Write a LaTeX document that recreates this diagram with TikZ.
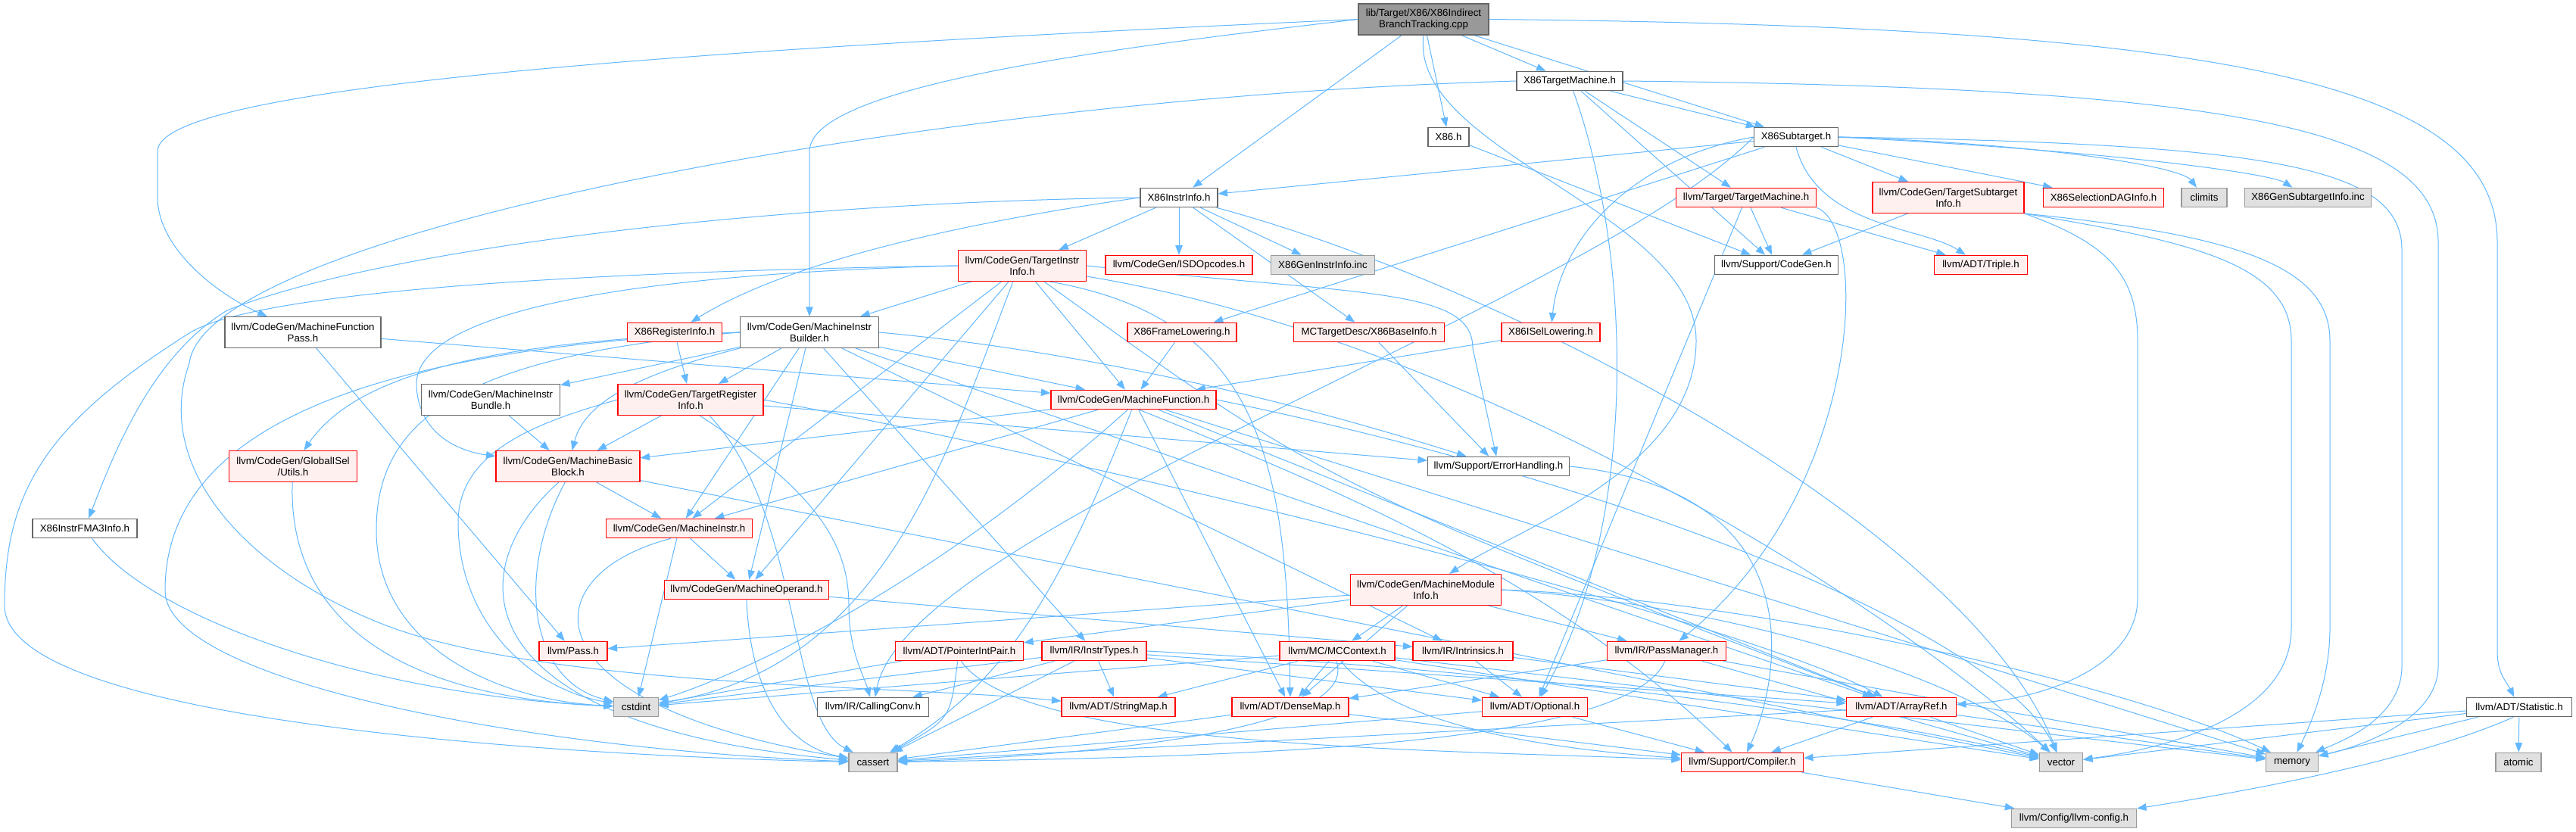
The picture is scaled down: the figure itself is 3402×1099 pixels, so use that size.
\documentclass[tikz,border=0pt]{standalone}
\usepackage{fontspec}
\setmainfont{Liberation Sans}
\usetikzlibrary{arrows.meta,backgrounds}
\definecolor{edgec}{HTML}{63B8FF}
\definecolor{redfill}{HTML}{FFF0F0}
\definecolor{grayfill}{HTML}{E0E0E0}
\definecolor{graybd}{HTML}{999999}
\definecolor{darkbd}{HTML}{666666}
\definecolor{rootfill}{HTML}{999999}
\begin{document}
\begin{tikzpicture}[x=1pt,y=-1pt,
  box/.style={rectangle, inner xsep=3pt, inner ysep=2pt, minimum height=25.5pt, line width=1.1pt,
     align=center, font=\fontsize{13.3}{15.5}\selectfont},
  wn/.style={box, draw=darkbd, fill=white},
  wn2/.style={wn, minimum height=41pt},
  rn/.style={box, draw=red, fill=redfill},
  rn2/.style={rn, minimum height=41pt},
  gn/.style={box, draw=graybd, fill=grayfill},
  rootn/.style={box, draw=darkbd, fill=rootfill, minimum height=41pt},
  dep/.style={draw=edgec, line width=1pt, -{Triangle[length=12.5pt,width=9.5pt]}}]
\useasboundingbox (0,0) rectangle (3402,1099);

% nodes
\node[rootn, minimum width=172pt] (root) at (1880,25.5) {lib/Target/X86/X86Indirect\\BranchTracking.cpp};
\node[wn, minimum width=140pt] (tm) at (2073,107) {X86TargetMachine.h};
\node[wn, minimum width=54pt] (x86h) at (1913,181) {X86.h};
\node[wn, minimum width=111pt] (sub) at (2372,181) {X86Subtarget.h};
\node[wn, minimum width=102pt] (ii) at (1557,261) {X86InstrInfo.h};
\node[rn, minimum width=185pt] (ttm) at (2306,261) {llvm/Target/TargetMachine.h};
\node[rn2, minimum width=200pt] (tsi) at (2573,261) {llvm/CodeGen/TargetSubtarget\\Info.h};
\node[rn, minimum width=159pt] (sdag) at (2778,261) {X86SelectionDAGInfo.h};
\node[gn, minimum width=60pt] (climits) at (2911,261) {climits};
\node[gn, minimum width=167pt] (gsi) at (3048,261) {X86GenSubtargetInfo.inc};
\node[rn2, minimum width=169pt] (tii) at (1350,351) {llvm/CodeGen/TargetInstr\\Info.h};
\node[rn, minimum width=194pt] (isd) at (1557,350) {llvm/CodeGen/ISDOpcodes.h};
\node[gn, minimum width=137pt] (gii) at (1747,350) {X86GenInstrInfo.inc};
\node[wn, minimum width=163pt] (cg) at (2346,350) {llvm/Support/CodeGen.h};
\node[rn, minimum width=123pt] (triple) at (2616,350) {llvm/ADT/Triple.h};
\node[wn2, minimum width=206pt] (mfp) at (400,439) {llvm/CodeGen/MachineFunction\\Pass.h};
\node[rn, minimum width=125pt] (ri) at (891,439) {X86RegisterInfo.h};
\node[wn2, minimum width=183pt] (mib) at (1069,439) {llvm/CodeGen/MachineInstr\\Builder.h};
\node[rn, minimum width=144pt] (fl) at (1561,439) {X86FrameLowering.h};
\node[rn, minimum width=199pt] (bi) at (1808,439) {MCTargetDesc/X86BaseInfo.h};
\node[rn, minimum width=130pt] (isel) at (2048,439) {X86ISelLowering.h};
\node[wn2, minimum width=183pt] (mibun) at (648,528) {llvm/CodeGen/MachineInstr\\Bundle.h};
\node[rn2, minimum width=192pt] (tri) at (912,528) {llvm/CodeGen/TargetRegister\\Info.h};
\node[rn, minimum width=218pt] (mf) at (1497,528) {llvm/CodeGen/MachineFunction.h};
\node[rn2, minimum width=169pt] (gutils) at (387,616) {llvm/CodeGen/GlobalISel\\/Utils.h};
\node[rn2, minimum width=190pt] (mbb) at (750,616) {llvm/CodeGen/MachineBasic\\Block.h};
\node[wn, minimum width=187pt] (eh) at (1979,616) {llvm/Support/ErrorHandling.h};
\node[wn, minimum width=138pt] (fma) at (112,698) {X86InstrFMA3Info.h};
\node[rn, minimum width=193pt] (mi) at (897,698) {llvm/CodeGen/MachineInstr.h};
\node[rn, minimum width=217pt] (mo) at (986,779) {llvm/CodeGen/MachineOperand.h};
\node[rn2, minimum width=199pt] (mmi) at (1883,779) {llvm/CodeGen/MachineModule\\Info.h};
\node[rn, minimum width=90pt] (pass) at (757,860) {llvm/Pass.h};
\node[rn, minimum width=169pt] (pip) at (1267,860) {llvm/ADT/PointerIntPair.h};
\node[rn, minimum width=138pt] (it) at (1445,860) {llvm/IR/InstrTypes.h};
\node[rn, minimum width=152pt] (mcc) at (1766,860) {llvm/MC/MCContext.h};
\node[rn, minimum width=132pt] (intr) at (1932,860) {llvm/IR/Intrinsics.h};
\node[rn, minimum width=157pt] (pm) at (2201,860) {llvm/IR/PassManager.h};
\node[gn, minimum width=59pt] (cstdint) at (840,934) {cstdint};
\node[wn, minimum width=147pt] (cc) at (1153,934) {llvm/IR/CallingConv.h};
\node[rn, minimum width=150pt] (smap) at (1477,934) {llvm/ADT/StringMap.h};
\node[rn, minimum width=154pt] (dmap) at (1704,934) {llvm/ADT/DenseMap.h};
\node[rn, minimum width=139pt] (opt) at (2027,934) {llvm/ADT/Optional.h};
\node[rn, minimum width=145pt] (aref) at (2511,934) {llvm/ADT/ArrayRef.h};
\node[wn, minimum width=139pt] (stat) at (3327,934) {llvm/ADT/Statistic.h};
\node[gn, minimum width=64pt] (cassert) at (1153,1007) {cassert};
\node[rn, minimum width=161pt] (comp) at (2301,1007) {llvm/Support/Compiler.h};
\node[gn, minimum width=57pt] (vector) at (2722,1007) {vector};
\node[gn, minimum width=69pt] (memory) at (3027,1007) {memory};
\node[gn, minimum width=60pt] (atomic) at (3326,1007) {atomic};
\node[gn, minimum width=165pt] (cfg) at (2739,1081) {llvm/Config/llvm-config.h};

\begin{pgfonlayer}{background}
\fill[white] (0,0) rectangle (3402,1099);
% root
\draw[dep] (root) -- (x86h);
\draw[dep] (root) -- (ii);
\draw[dep] (root) -- (sub);
\draw[dep] (root) -- (tm);
\draw[dep] (root.east) .. controls (2950,35) and (3298,110) .. (3298,320) -- (3298,860) .. controls (3298,890) and (3310,900) .. (stat);
\draw[dep] (root.west) .. controls (800,70) and (208,120) .. (208,200) -- (208,260) .. controls (208,330) and (290,390) .. (mfp);
\draw[dep] (root.west) .. controls (1500,60) and (1069,110) .. (1069,200) -- (mib);
\draw[dep] (root.south) .. controls (1860,200) and (2240,280) .. (2240,450) .. controls (2240,620) and (2000,700) .. (mmi);
% X86TargetMachine
\draw[dep] (tm) -- (sub);
\draw[dep] (tm) -- (cg);
\draw[dep] (tm) -- (ttm);
\draw[dep] (tm) .. controls (2160,350) and (2160,700) .. (opt);
\draw[dep] (tm.east) .. controls (2950,115) and (3220,170) .. (3220,320) -- (3220,880) .. controls (3220,950) and (3120,985) .. (memory);
\draw[dep] (tm.west) .. controls (1200,130) and (270,310) .. (250,480) .. controls (200,620) and (330,760) .. (520,830) .. controls (750,910) and (1200,905) .. (smap);
% X86.h
\draw[dep] (x86h) -- (cg);
% X86Subtarget
\draw[dep] (sub) -- (ii);
\draw[dep] (sub) -- (fl);
\draw[dep] (sub.west) .. controls (2150,210) and (2060,320) .. (isel);
\draw[dep] (sub) -- (sdag);
\draw[dep] (sub.south) .. controls (2400,300) and (2540,300) .. (triple);
\draw[dep] (sub) -- (tsi);
\draw[dep] (sub.west) .. controls (2100,400) and (1200,700) .. (cc);
\draw[dep] (sub.east) .. controls (2700,190) and (2880,220) .. (climits);
\draw[dep] (sub.east) .. controls (3000,190) and (3172,220) .. (3172,330) -- (3172,880) .. controls (3172,950) and (3090,980) .. (memory);
\draw[dep] (sub.east) .. controls (2800,200) and (3000,230) .. (gsi);
% X86InstrInfo
\draw[dep] (ii) -- (bi);
\draw[dep] (ii.west) .. controls (1000,268) and (500,330) .. (300,410) .. controls (200,470) and (150,600) .. (fma);
\draw[dep] (ii.west) .. controls (1300,290) and (1050,340) .. (ri);
\draw[dep] (ii) -- (isd);
\draw[dep] (ii) -- (tii);
\draw[dep] (ii) .. controls (2000,380) and (2600,700) .. (vector);
\draw[dep] (ii) -- (gii);
% TargetMachine
\draw[dep] (ttm) -- (cg);
\draw[dep] (ttm) -- (triple);
\draw[dep] (ttm) -- (opt);
\draw[dep] (ttm.south east) .. controls (2470,300) and (2460,650) .. (pm);
% TargetSubtargetInfo
\draw[dep] (tsi) -- (cg);
\draw[dep] (tsi.south east) .. controls (2780,320) and (2823,360) .. (2823,450) -- (2823,790) .. controls (2823,880) and (2700,925) .. (aref);
\draw[dep] (tsi.south east) .. controls (2900,320) and (3026,350) .. (3026,450) -- (3026,830) .. controls (3026,950) and (2850,990) .. (vector);
\draw[dep] (tsi.south east) .. controls (2950,310) and (3077,350) .. (3077,450) -- (3077,830) .. controls (3077,900) and (3050,960) .. (memory);
% TargetInstrInfo
\draw[dep] (tii) -- (mib);
\draw[dep] (tii.west) .. controls (900,360) and (545,400) .. (550,510) .. controls (553,570) and (600,595) .. (mbb);
\draw[dep] (tii) -- (mf);
\draw[dep] (tii) -- (mi);
\draw[dep] (tii) -- (mo);
\draw[dep] (tii.east) .. controls (1800,390) and (1945,380) .. (1945,460) -- (eh);
\draw[dep] (tii.-30) .. controls (1660,420) and (1700,600) .. (dmap);
\draw[dep] (tii) .. controls (1750,640) .. (aref);
\draw[dep] (tii.west) .. controls (700,360) and (330,390) .. (250,440) .. controls (60,560) and (6,650) .. (6,800) .. controls (6,960) and (800,1000) .. (cassert);
\draw[dep] (tii.-120) .. controls (1250,600) and (1170,880) .. (cstdint);
\draw[dep] (tii) .. controls (1950,450) and (2500,800) .. (vector);
% MachineFunctionPass
\draw[dep] (mfp) -- (mf);
\draw[dep] (mfp) -- (pass);
% MachineInstrBuilder
\draw[dep] (mib) -- (aref);
\draw[dep] (mib.west) .. controls (700,450) and (480,480) .. (gutils);
\draw[dep] (mib.south west) .. controls (820,500) and (770,540) .. (mbb);
\draw[dep] (mib) -- (mf);
\draw[dep] (mib) -- (mi);
\draw[dep] (mib) -- (mibun);
\draw[dep] (mib) -- (mo);
\draw[dep] (mib) -- (tri);
\draw[dep] (mib) -- (it);
\draw[dep] (mib) -- (intr);
\draw[dep] (mib.east) .. controls (1500,470) and (1800,560) .. (eh);
\draw[dep] (mib.west) .. controls (500,460) and (218,560) .. (218,780) .. controls (218,900) and (700,990) .. (cassert);
\draw[dep] (mib.west) .. controls (600,470) and (497,560) .. (497,700) .. controls (497,850) and (650,925) .. (cstdint);
% single edges
\draw[dep] (ri) -- (tri);
\draw[dep] (fl) -- (mf);
\draw[dep] (bi) -- (eh);
\draw[dep] (isel) -- (mf);
\draw[dep] (mibun) -- (mbb);
% TargetRegisterInfo
\draw[dep] (tri) -- (mbb);
\draw[dep] (tri.east) .. controls (1500,620) and (2300,820) .. (aref);
\draw[dep] (tri.-60) .. controls (1080,650) and (1121,720) .. (1121,800) .. controls (1121,860) and (1140,890) .. (cc);
\draw[dep] (tri) -- (eh);
\draw[dep] (tri.-40) .. controls (1060,680) and (1040,950) .. (cassert);
\draw[dep] (tri.west) .. controls (700,560) and (605,600) .. (605,690) .. controls (605,820) and (700,910) .. (cstdint);
% MachineFunction
\draw[dep] (mf) -- (mbb);
\draw[dep] (mf) -- (mi);
\draw[dep] (mf) -- (aref);
\draw[dep] (mf) -- (dmap);
\draw[dep] (mf.-60) .. controls (1750,640) and (2050,760) .. (comp);
\draw[dep] (mf.-100) .. controls (1400,780) and (1330,900) .. (cassert);
\draw[dep] (mf.-120) .. controls (1200,800) and (950,900) .. (cstdint);
\draw[dep] (mf) -- (memory);
\draw[dep] (mf.east) .. controls (2200,650) and (2650,850) .. (vector);
% GlobalISel Utils
\draw[dep] (gutils) .. controls (380,800) and (500,920) .. (cstdint);
% MachineBasicBlock
\draw[dep] (mbb) -- (mi);
\draw[dep] (mbb.-120) .. controls (600,760) and (620,960) .. (cassert);
\draw[dep] (mbb.-100) .. controls (680,760) and (700,900) .. (cstdint);
\draw[dep] (mbb) -- (vector);
% MachineInstr
\draw[dep] (mi) -- (mo);
\draw[dep] (mi.-130) .. controls (700,760) and (690,930) .. (cassert);
\draw[dep] (mi) -- (cstdint);
% MachineOperand
\draw[dep] (mo) -- (intr);
\draw[dep] (mo.south) .. controls (990,900) and (1030,985) .. (cassert);
% MachineModuleInfo
\draw[dep] (mmi) -- (pass);
\draw[dep] (mmi) -- (pip);
\draw[dep] (mmi) -- (mcc);
\draw[dep] (mmi) -- (dmap);
\draw[dep] (mmi) -- (pm);
\draw[dep] (mmi.east) .. controls (2300,790) and (2800,900) .. (memory);
\draw[dep] (mmi.east) .. controls (2300,800) and (2600,900) .. (vector);
% PointerIntPair
\draw[dep] (pip) -- (cstdint);
\draw[dep] (pip.-100) .. controls (1255,950) .. (cassert);
\draw[dep] (pip.-80) .. controls (1350,990) and (1900,990) .. (comp);
% InstrTypes
\draw[dep] (it) -- (cc);
\draw[dep] (it) -- (smap);
\draw[dep] (it) -- (cstdint);
\draw[dep] (it) -- (cassert);
\draw[dep] (it.east) .. controls (1900,880) and (2400,930) .. (vector);
\draw[dep] (it) -- (aref);
\draw[dep] (it) -- (opt);
% MCContext
\draw[dep] (mcc) -- (smap);
\draw[dep] (mcc) -- (dmap);
\draw[dep] (mcc) -- (opt);
\draw[dep] (mcc.-70) .. controls (1840,960) and (2050,990) .. (comp);
\draw[dep] (mcc.-95) .. controls (1800,970) and (1400,1000) .. (cassert);
\draw[dep] (mcc) -- (cstdint);
\draw[dep] (mcc) -- (memory);
\draw[dep] (mcc) -- (vector);
% Intrinsics
\draw[dep] (intr) -- (opt);
\draw[dep] (intr) -- (aref);
% PassManager
\draw[dep] (pm) -- (dmap);
\draw[dep] (pm.-100) .. controls (2150,990) and (1600,1000) .. (cassert);
\draw[dep] (pm) -- (vector);
\draw[dep] (pm) -- (memory);
% DenseMap, Optional, ArrayRef
\draw[dep] (dmap) -- (cassert);
\draw[dep] (dmap) -- (comp);
\draw[dep] (opt) -- (comp);
\draw[dep] (opt) -- (cassert);
\draw[dep] (aref) -- (comp);
\draw[dep] (aref) -- (vector);
\draw[dep] (aref) -- (cassert);
\draw[dep] (aref) -- (memory);
% ErrorHandling
\draw[dep] (eh.east) .. controls (2400,650) and (2350,900) .. (comp);
% Statistic
\draw[dep] (stat.-120) .. controls (3200,1000) and (3000,1040) .. (cfg);
\draw[dep] (stat) -- (comp);
\draw[dep] (stat) -- (vector);
\draw[dep] (stat) -- (memory);
\draw[dep] (stat) -- (atomic);
% Compiler
\draw[dep] (comp) -- (cfg);
% FMA3
\draw[dep] (fma) .. controls (200,820) and (500,920) .. (cstdint);
\end{pgfonlayer}
\end{tikzpicture}
\end{document}
